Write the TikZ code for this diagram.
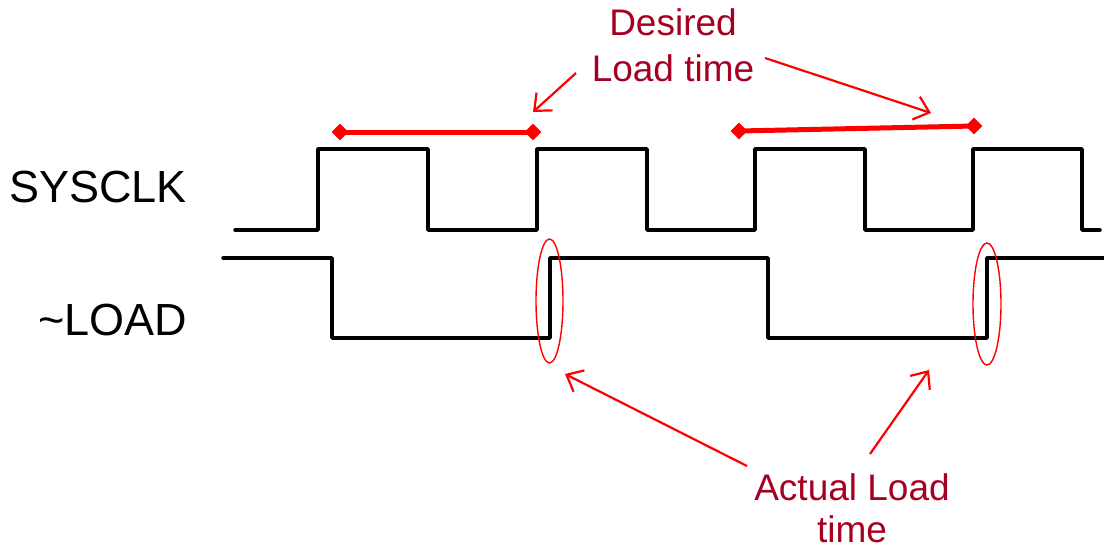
\documentclass[tikz,border=0pt]{standalone}
\usepackage{fontspec}
\setmainfont{Liberation Sans}
\usetikzlibrary{arrows.meta,shapes.geometric}
\definecolor{lblred}{HTML}{A50021}
\begin{document}
\begin{tikzpicture}[x=1pt,y=-1pt,
 wave/.style={line width=3.5pt, line join=round, line cap=round},
 sig/.style={font=\fontsize{45}{54}\selectfont, inner sep=0, anchor=base west},
 note/.style={font=\fontsize{37}{45}\selectfont, text=lblred, inner sep=0, anchor=base},
 callout/.style={draw=red, line width=2.2pt, -{Straight Barb[length=14pt,width=24pt,line width=2.2pt]}},
 spanline/.style={draw=red, line width=5pt},
 dia/.style={fill=red, diamond, minimum width=17pt, minimum height=17pt, inner sep=0},
 ring/.style={draw=red, line width=1.4pt, ellipse, inner sep=0}]
\useasboundingbox (0,0) rectangle (1104,550);

% signal labels
\node[sig] (sysclk) at (9,202) {SYSCLK};
\node[sig] (load) at (38,335) {\char`\~LOAD};

% waveforms
\draw[wave] (235,230) -| (318,149) -| (428,230) -| (537,149) -| (647,230)
  -| (755,149) -| (865,230) -| (973,149) -| (1082,230) -- (1100,230);
\draw[wave] (223,258) -| (332,338) -| (550,258) -| (768,338) -| (987,258) -- (1106,258);

% desired load spans
\node[dia] (d1) at (340,132) {};
\node[dia] (d2) at (533,132) {};
\node[dia] (d3) at (739,131) {};
\node[dia] (d4) at (974,126) {};
\draw[spanline] (d1.center) -- (d2.center);
\draw[spanline] (d3.center) -- (d4.center);

% ellipses
\node[ring, minimum width=27pt, minimum height=124pt] (e1) at (549.5,301) {};
\node[ring, minimum width=28pt, minimum height=122pt] (e2) at (987,304) {};

% notes
\node[note] (des1) at (673,35) {Desired};
\node[note] (des2) at (673,81) {Load time};
\node[note] (act1) at (852,500) {Actual Load};
\node[note] (act2) at (852,542) {time};

% callout arrows
\coordinate (t1) at (576,73);
\coordinate (h1) at (533,112);
\coordinate (t2) at (765,58);
\coordinate (h2) at (931,113);
\coordinate (t3) at (747,466);
\coordinate (h3) at (565,374);
\coordinate (t4) at (870,454);
\coordinate (h4) at (929,370);
\draw[callout] (t1) -- (h1);
\draw[callout] (t2) -- (h2);
\draw[callout] (t3) -- (h3);
\draw[callout] (t4) -- (h4);
\end{tikzpicture}
\end{document}
